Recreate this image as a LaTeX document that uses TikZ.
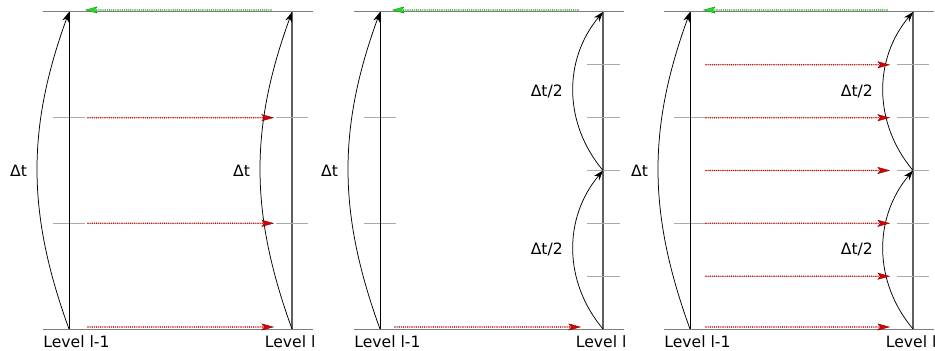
\documentclass[tikz,border=0pt]{standalone}
\usepackage{fontspec}
\setmainfont{DejaVu Sans}
\usetikzlibrary{arrows.meta,positioning}
\definecolor{ProlongRed}{RGB}{220, 0, 0}
\definecolor{ProlongDots}{RGB}{185, 15, 15}
\definecolor{RestrictGreen}{RGB}{30, 225, 30}
\definecolor{RestrictDots}{RGB}{40, 165, 40}
\definecolor{GridGray}{RGB}{125, 125, 125}
\definecolor{FineGray}{RGB}{95, 95, 95}
\definecolor{TickGray}{RGB}{170, 170, 170}
\newcommand{\labelsize}{\fontsize{12.5}{15}\selectfont}

\begin{document}
\begin{tikzpicture}[x=0.8pt, y=-0.8pt,
    every node/.style={font=\labelsize, inner sep=1pt},
    levelline/.style={black, line width=0.75pt},
    fineline/.style={FineGray, line width=1pt},
    timeline/.style={GridGray, line width=0.8pt},
    subtick/.style={TickGray, line width=0.6pt},
    advance/.style={black, line width=0.6pt, -{Stealth[length=8pt, width=5.5pt, inset=2.5pt]}},
    prolong/.style={ProlongDots, line cap=round, dash pattern=on 0pt off 1.7pt, line width=1.3pt,
        -{Stealth[length=10pt, width=5.5pt, inset=2pt, color=ProlongRed!60!black, fill=ProlongRed, line width=0.3pt, line cap=butt]}},
    restrict/.style={RestrictDots, line cap=round, dash pattern=on 0pt off 1.7pt, line width=1.3pt,
        -{Stealth[length=10pt, width=5.5pt, inset=2pt, color=RestrictGreen!60!black, fill=RestrictGreen, line width=0.3pt, line cap=butt]}},
    levellabel/.style={below=4pt}]
    \useasboundingbox (0,0) rectangle (935,351);
    % parts shared by the three panels
    \foreach \p/\xl/\xr/\xs/\xe in {A/69/292/88/274, B/380/603/395/581, C/690/913/706/890} {
        \coordinate (\p-lt) at (\xl,12);
        \coordinate (\p-lb) at (\xl,329);
        \coordinate (\p-rt) at (\xr,12);
        \coordinate (\p-rb) at (\xr,329);
        \coordinate (\p-tw) at (\xl-26,12);
        \coordinate (\p-te) at (\xr+21,12);
        \coordinate (\p-bw) at (\xl-26,329);
        \coordinate (\p-be) at (\xr+21,329);
        \draw[timeline] (\p-tw) -- (\p-te);
        \draw[timeline] (\p-bw) -- (\p-be);
        \foreach \y in {117.7,223.3} {
            \draw[subtick] (\xl-16,\y) -- ++(32,0);
        }
        \draw[levelline] (\p-lb) -- (\p-lt);
        \draw[fineline] (\p-rb) -- (\p-rt);
        \draw[advance] (\p-lb) to[bend left=20] node[left=7pt] {Δt} (\p-lt);
        \coordinate (\p-gs) at (\xe-3,10);
        \coordinate (\p-ge) at (\xs-3,10);
        \draw[restrict] (\p-gs) -- (\p-ge);
        \coordinate (\p-bs) at (\xs,327);
        \coordinate (\p-bf) at (\xe,327);
        \draw[prolong] (\p-bs) -- (\p-bf);
        \node[levellabel, xshift=6pt] (\p-coarse) at (\p-lb) {Level l-1};
        \node[levellabel, xshift=-1.5pt] (\p-fine) at (\p-rb) {Level l};
    }
    % panel A: one fine step of size dt
    \foreach \y in {117.7,223.3} {
        \draw[subtick] (276,\y) -- ++(32,0);
    }
    \draw[advance] (A-rb) to[bend left=20] node[left=7pt] {Δt} (A-rt);
    \foreach \k/\y in {1/117.7, 2/223.3} {
        \coordinate (A-in\k) at (88,\y);
        \coordinate (A-out\k) at (274,\y);
        \draw[prolong] (A-in\k) -- (A-out\k);
    }
    % panel B: two fine steps of size dt/2
    \foreach \y in {64.8,117.7,170.5,223.3,276.2} {
        \draw[subtick] (587,\y) -- ++(33,0);
    }
    \coordinate (B-rm) at (603,170.5);
    \draw[advance] (B-rb) to[bend left=40] node[left=7pt] {Δt/2} (B-rm);
    \draw[advance] (B-rm) to[bend left=40] node[left=7pt] {Δt/2} (B-rt);
    % panel C: two fine steps, prolongation at every sub-level
    \foreach \y in {64.8,117.7,170.5,223.3,276.2} {
        \draw[subtick] (897,\y) -- ++(32,0);
    }
    \coordinate (C-rm) at (913,170.5);
    \draw[advance] (C-rb) to[bend left=40] node[left=7pt] {Δt/2} (C-rm);
    \draw[advance] (C-rm) to[bend left=40] node[left=7pt] {Δt/2} (C-rt);
    \foreach \k/\y in {1/64.8, 2/117.7, 3/170.5, 4/223.3, 5/276.2} {
        \coordinate (C-in\k) at (706,\y);
        \coordinate (C-out\k) at (890,\y);
        \draw[prolong] (C-in\k) -- (C-out\k);
    }
\end{tikzpicture}
\end{document}
